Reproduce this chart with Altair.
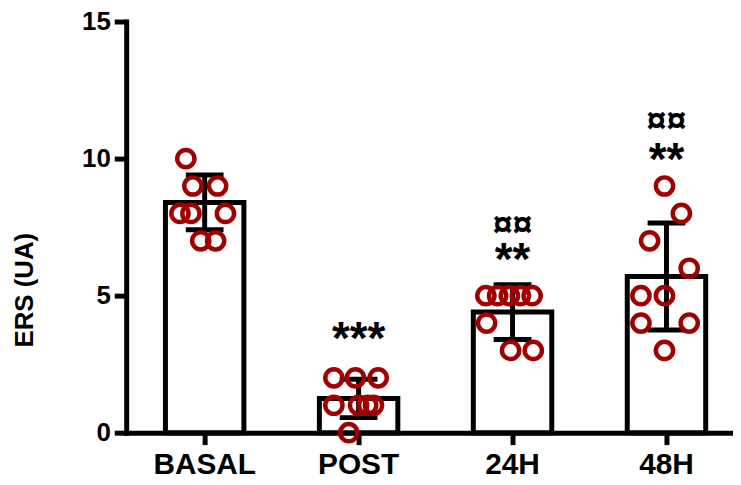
import altair as alt
import pandas as pd

cats = ["BASAL", "POST", "24H", "48H"]
means = [8.4, 1.25, 4.4, 5.7]
sds = [1.0, 0.7, 1.0, 1.95]

basal_vals = [10, 9, 9, 8, 8, 8, 7, 7]
basal_jit = [-0.48, -0.30, 0.33, -0.63, -0.35, 0.53, -0.10, 0.28]
post_vals = [2, 2, 2, 1, 1, 1, 1, 0]
post_jit = [-0.63, -0.08, 0.50, -0.63, 0.0, 0.23, 0.38, -0.25]
h24_vals = [5, 5, 5, 5, 5, 4, 3, 3]
h24_jit = [-0.68, -0.38, -0.08, 0.20, 0.50, -0.66, -0.05, 0.53]
h48_vals = [9, 8, 7, 6, 5, 5, 4, 4, 3]
h48_jit = [-0.05, 0.38, -0.43, 0.58, -0.65, -0.05, -0.65, 0.58, -0.05]

star_cats = ["POST", "24H", "48H"]
star_text = ["***", "**", "**"]
star_y = [3.37, 6.25, 9.9]
cur_cats = ["24H", "48H"]
cur_text = ["¤¤", "¤¤"]
cur_y = [7.57, 11.38]

FONT = "Liberation Sans"
RED = "#a00000"

summary = pd.DataFrame({
    "cat": cats,
    "mean": means,
    "lo": [m - s for m, s in zip(means, sds)],
    "hi": [m + s for m, s in zip(means, sds)],
})

rows = []
for c, vals, jits in [("BASAL", basal_vals, basal_jit), ("POST", post_vals, post_jit),
                      ("24H", h24_vals, h24_jit), ("48H", h48_vals, h48_jit)]:
    for v, j in zip(vals, jits):
        rows.append({"cat": c, "value": v, "jit": j})
points = pd.DataFrame(rows)

stars = pd.DataFrame({"cat": star_cats, "text": star_text, "y": star_y})
curs = pd.DataFrame({"cat": cur_cats, "text": cur_text, "y": cur_y})

x_enc = alt.X(
    "cat:N", sort=cats,
    scale=alt.Scale(paddingInner=0.49, paddingOuter=0.216, align=0.59),
    axis=alt.Axis(title=None, labelAngle=0, labelFont=FONT, labelFontSize=30,
                  labelFontWeight="bold", labelColor="black", tickSize=12,
                  tickWidth=5, tickColor="black", domainWidth=5, domainColor="black",
                  domainCap="square", labelPadding=29, labelBaseline="alphabetic"),
)
y_scale = alt.Scale(domain=[0, 15], nice=False, zero=True)
y_axis = alt.Axis(title="ERS (UA)", values=[0, 5, 10, 15], grid=False,
                  labelFont=FONT, labelFontSize=26, labelFontWeight="bold",
                  labelColor="black", tickSize=12, tickWidth=5, tickColor="black",
                  domainWidth=5, domainColor="black", domainCap="square",
                  labelPadding=4, titleFont=FONT, titleFontSize=26,
                  titleFontWeight="bold", titleColor="black", titleX=-102,
                  titleY=270, titleAngle=270, titleAlign="center",
                  titleBaseline="middle")

xs = alt.X("cat:N", sort=cats)

bars = alt.Chart(summary).mark_bar(fill="white", stroke="black", strokeWidth=5,
                                   width=79).encode(
    x=x_enc, y=alt.Y("mean:Q", scale=y_scale, axis=y_axis)
)
err = alt.Chart(summary).mark_rule(color="black", strokeWidth=5, opacity=1).encode(
    x=xs, y="lo:Q", y2="hi:Q"
)
cap_hi = alt.Chart(summary).mark_tick(color="black", thickness=5, size=38, opacity=1).encode(
    x=xs, y="hi:Q"
)
cap_lo = alt.Chart(summary).mark_tick(color="black", thickness=5, size=38, opacity=1).encode(
    x=xs, y="lo:Q"
)
pts = alt.Chart(points).mark_point(shape="circle", filled=False, stroke=RED,
                                   strokeWidth=4.5, size=300, opacity=1).encode(
    x=xs,
    xOffset=alt.XOffset("jit:Q", scale=alt.Scale(domain=[-1, 1], range=[0, 79])),
    y="value:Q",
)
star_txt = alt.Chart(stars).mark_text(font=FONT, fontSize=46, fontWeight="bold",
                                      color="black", baseline="middle").encode(
    x=xs, y="y:Q", text="text:N"
)
cur_txt = alt.Chart(curs).mark_text(font=FONT, fontSize=36, fontWeight="bold",
                                    color="black", baseline="middle").encode(
    x=xs, y="y:Q", text="text:N"
)

chart = alt.layer(bars, err, cap_hi, cap_lo, pts, star_txt, cur_txt).properties(
    width=611, height=414,
    autosize=alt.AutoSizeParams(type="none"),
    padding={"left": 119, "top": 12, "right": 0, "bottom": 43},
    background="white",
).configure_view(stroke=None)

chart.save("out.html", embed_options={"renderer": "svg", "actions": False})
